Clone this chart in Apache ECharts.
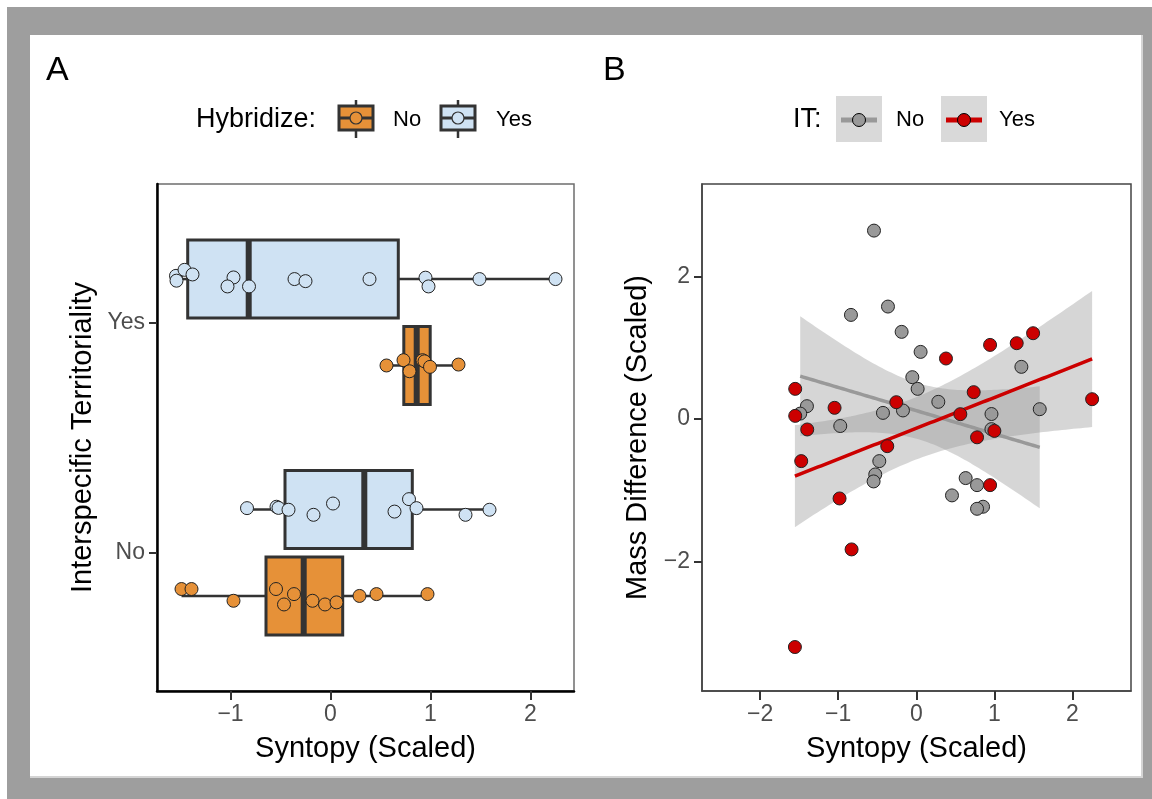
<!DOCTYPE html>
<html><head><meta charset="utf-8">
<script src="https://cdn.jsdelivr.net/npm/echarts@6/dist/echarts.min.js"></script>
<style>
html,body{margin:0;padding:0;background:#fff;}
#frame{position:absolute;left:7px;top:7px;width:1145px;height:792px;background:#9e9e9e;}
#inner{position:absolute;left:30px;top:35px;width:1111px;height:741px;background:#fff;border-right:2px solid #d4d4d4;border-bottom:2px solid #d4d4d4;}
#c{position:absolute;left:0;top:0;width:1152px;height:799px;}
</style>
</head><body>
<div id="frame"></div><div id="inner"></div>
<div id="c"></div>
<script>
// ---------- Panel A data ----------
const categoriesA = ['No', 'Yes'];           // Interspecific Territoriality
const hybridizeLevels = ['No', 'Yes'];
const xTicksA = [-1, 0, 1, 2];
// box stats [lower whisker, Q1, median, Q3, upper whisker] for IT = No, Yes
const boxHybNo  = [[-1.49, -0.645, -0.268, 0.122, 0.97], [0.565, 0.733, 0.862, 0.997, 1.28]];
const boxHybYes = [[-0.835, -0.455, 0.338, 0.818, 1.59], [-1.55, -1.428, -0.818, 0.678, 2.25]];
// raw points (syntopy) and read vertical jitter (category units)
const hybNoItNoX  = [-1.49, -1.39, -0.97, -0.545, -0.465, -0.365, -0.18, -0.055, 0.06, 0.29, 0.46, 0.97];
const hybNoItNoJ  = [0.03, 0.03, -0.021, 0.03, -0.037, 0.008, -0.021, -0.037, -0.028, 0, 0.008, 0.008];
const hybNoItYesX = [0.56, 0.73, 0.79, 0.92, 0.94, 0.995, 1.28];
const hybNoItYesJ = [0, 0.023, -0.025, 0.023, 0.018, -0.006, 0.004];
const hybYesItNoX = [-0.835, -0.54, -0.52, -0.42, -0.17, 0.025, 0.64, 0.785, 0.86, 1.35, 1.59];
const hybYesItNoJ = [0.006, 0.012, 0.007, -0.001, -0.023, 0.026, -0.009, 0.045, 0.006, -0.023, -0.001];
const hybYesItYesX = [-1.545, -1.54, -1.46, -1.38, -0.97, -1.03, -0.815, -0.36, -0.25, 0.39, 0.95, 0.98, 1.49, 2.25];
const hybYesItYesJ = [0.014, -0.007, 0.04, 0.02, 0.007, -0.032, -0.032, 0, -0.009, 0, 0.006, -0.032, 0, 0];

// ---------- Panel B data ----------
const xTicksB = [-2, -1, 0, 1, 2];
const yTicksB = [-2, 0, 2];
const itNoX = [-0.542, -0.837, -0.363, -0.188, 0.055, -0.051, 0.017, 1.346, 0.282, -0.427, -0.171, -1.401, -1.487, -0.974, 0.963, 1.581, 0.962, -0.474, -0.526, -0.547, 0.632, 0.778, 0.457, 0.855, 0.778];
const itNoY = [2.646, 1.463, 1.58, 1.225, 0.944, 0.589, 0.425, 0.734, 0.243, 0.088, 0.122, 0.182, 0.078, -0.096, 0.072, 0.14, -0.14, -0.589, -0.776, -0.874, -0.827, -0.926, -1.07, -1.229, -1.258];
const itYesX = [0.38, 0.945, 1.286, 1.496, -1.551, -1.551, -1.047, -1.397, -0.256, 0.735, 0.564, 2.252, 1.0, 0.778, -0.372, -1.474, 0.945, -0.983, -0.829, -1.555];
const itYesY = [0.851, 1.042, 1.066, 1.206, 0.425, 0.046, 0.159, -0.145, 0.238, 0.379, 0.07, 0.28, -0.165, -0.255, -0.379, -0.589, -0.926, -1.113, -1.828, -3.198];

// ---------- styling constants ----------
const FONT = '"Liberation Sans", Arial, sans-serif';
const ORANGE = '#e69138', LIGHTBLUE = '#cfe2f3';
const GREYPT = '#999999', REDPT = '#cc0000';
const DODGE = 0.1875, BOXHALF = 0.169;
const minus = v => String(v).replace('-', '\u2212');

function boxRender(color, dodge) {
  return function (params, api) {
    const yc = api.value(0) + dodge;
    const lo = api.coord([api.value(1), yc]);
    const q1 = api.coord([api.value(2), yc]);
    const md = api.coord([api.value(3), yc]);
    const q3 = api.coord([api.value(4), yc]);
    const hi = api.coord([api.value(5), yc]);
    const top = api.coord([api.value(2), yc + BOXHALF])[1];
    const bot = api.coord([api.value(2), yc - BOXHALF])[1];
    return {
      type: 'group', children: [
        { type: 'line', shape: { x1: lo[0], y1: lo[1], x2: q1[0], y2: q1[1] }, style: { stroke: '#333', lineWidth: 2.5 } },
        { type: 'line', shape: { x1: q3[0], y1: q3[1], x2: hi[0], y2: hi[1] }, style: { stroke: '#333', lineWidth: 2.5 } },
        { type: 'rect', shape: { x: q1[0], y: top, width: q3[0] - q1[0], height: bot - top }, style: { fill: color, stroke: '#333', lineWidth: 3 } },
        { type: 'line', shape: { x1: md[0], y1: top, x2: md[0], y2: bot }, style: { stroke: '#333', lineWidth: 6 } }
      ]
    };
  };
}
function boxData(stats) { return stats.map((s, i) => [i + 1].concat(s)); }
function pointData(xs, js, cat, dodge) { return xs.map((x, i) => [x, cat + dodge + js[i]]); }

// linear model with 95% confidence band (as geom_smooth(method = "lm"))
function lmBand(xs, ys, tq) {
  const n = xs.length;
  const mx = xs.reduce((a, b) => a + b, 0) / n, my = ys.reduce((a, b) => a + b, 0) / n;
  let sxx = 0, sxy = 0;
  for (let i = 0; i < n; i++) { sxx += (xs[i] - mx) ** 2; sxy += (xs[i] - mx) * (ys[i] - my); }
  const b = sxy / sxx, a = my - b * mx;
  let sse = 0;
  for (let i = 0; i < n; i++) sse += (ys[i] - a - b * xs[i]) ** 2;
  const s = Math.sqrt(sse / (n - 2));
  const xmin = Math.min(...xs), xmax = Math.max(...xs);
  const out = [];
  for (let k = 0; k < 80; k++) {
    const x = xmin + (xmax - xmin) * k / 79;
    const yh = a + b * x;
    const se = s * Math.sqrt(1 / n + (x - mx) ** 2 / sxx);
    out.push([x, yh, yh - tq * se, yh + tq * se]);
  }
  return out;
}
const bandNo = lmBand(itNoX, itNoY, 2.069);
const bandYes = lmBand(itYesX, itYesY, 2.101);

function ribbonRender(band) {
  return function (params, api) {
    if (params.dataIndex !== 0) return null;
    const upper = band.map(p => api.coord([p[0], p[3]]));
    const lower = band.map(p => api.coord([p[0], p[2]])).reverse();
    return { type: 'polygon', shape: { points: upper.concat(lower) }, style: { fill: 'rgba(153,153,153,0.4)' } };
  };
}

const tickLabel = { color: '#4d4d4d', fontSize: 23, fontFamily: FONT };
const nameStyle = { color: '#000', fontSize: 29, fontFamily: FONT };

const chart = echarts.init(document.getElementById('c'), null, { renderer: 'canvas' });

function legendA(cx, color) {
  return [
    { type: 'line', shape: { x1: cx, y1: 100, x2: cx, y2: 138 }, style: { stroke: '#333', lineWidth: 2.5 }, z: 100 },
    { type: 'rect', shape: { x: cx - 17, y: 106, width: 34, height: 24 }, style: { fill: color, stroke: '#333', lineWidth: 3 }, z: 101 },
    { type: 'line', shape: { x1: cx - 17, y1: 118, x2: cx + 17, y2: 118 }, style: { stroke: '#333', lineWidth: 3 }, z: 102 },
    { type: 'circle', shape: { cx: cx, cy: 118, r: 6 }, style: { fill: color, stroke: '#333', lineWidth: 1.2 }, z: 103 }
  ];
}
function legendB(x0, color) {
  const cx = x0 + 23;
  return [
    { type: 'rect', shape: { x: x0, y: 96, width: 46, height: 46 }, style: { fill: '#d9d9d9' }, z: 100 },
    { type: 'line', shape: { x1: x0 + 5, y1: 120, x2: x0 + 41, y2: 120 }, style: { stroke: color, lineWidth: 5 }, z: 101 },
    { type: 'circle', shape: { cx: cx, cy: 120, r: 6.5 }, style: { fill: color, stroke: '#000', lineWidth: 1 }, z: 102 }
  ];
}
function txt(t, x, y, size, align) {
  return { type: 'text', z: 100, style: { text: t, x: x, y: y, fill: '#000', font: size + 'px ' + FONT, align: align || 'left', verticalAlign: 'middle', textAlign: align || 'left', textVerticalAlign: 'middle' } };
}

const option = {
  animation: false,
  backgroundColor: 'transparent',
  grid: [
    { left: 157, top: 184, width: 417, height: 507, show: true, borderColor: '#6e6e6e', borderWidth: 1.5, backgroundColor: 'transparent' },
    { left: 702, top: 184, width: 429, height: 507, show: true, borderColor: '#444', borderWidth: 1.5, backgroundColor: 'transparent' }
  ],
  xAxis: [
    { type: 'value', gridIndex: 0, min: -1.735, max: 2.435,
      name: 'Syntopy (Scaled)', nameLocation: 'middle', nameGap: 43, nameTextStyle: nameStyle,
      axisLine: { show: true, onZero: false, lineStyle: { color: '#000', width: 2.5 } },
      axisTick: { show: true, length: 9, customValues: xTicksA, lineStyle: { color: '#333', width: 2 } },
      axisLabel: { customValues: xTicksA, formatter: minus, margin: 12, ...tickLabel },
      splitLine: { show: false } },
    { type: 'value', gridIndex: 1, min: -2.745, max: 2.75,
      name: 'Syntopy (Scaled)', nameLocation: 'middle', nameGap: 43, nameTextStyle: nameStyle,
      axisLine: { show: true, onZero: false, lineStyle: { color: '#444', width: 1.5 } },
      axisTick: { show: true, length: 9, customValues: xTicksB, lineStyle: { color: '#333', width: 2 } },
      axisLabel: { customValues: xTicksB, formatter: minus, margin: 12, ...tickLabel },
      splitLine: { show: false } }
  ],
  yAxis: [
    { type: 'value', gridIndex: 0, min: 0.4, max: 2.6,
      name: 'Interspecific Territoriality', nameLocation: 'middle', nameGap: 60, nameRotate: 90, nameTextStyle: nameStyle,
      axisLine: { show: true, onZero: false, lineStyle: { color: '#000', width: 2.5 } },
      axisTick: { show: true, length: 8, customValues: [1, 2], lineStyle: { color: '#333', width: 2 } },
      axisLabel: { customValues: [1, 2], formatter: v => categoriesA[Math.round(v) - 1], margin: 12, ...tickLabel },
      splitLine: { show: false } },
    { type: 'value', gridIndex: 1, min: -3.815, max: 3.30,
      name: 'Mass Difference (Scaled)', nameLocation: 'middle', nameGap: 50, nameRotate: 90, nameTextStyle: nameStyle,
      axisLine: { show: true, onZero: false, lineStyle: { color: '#444', width: 1.5 } },
      axisTick: { show: true, length: 8, customValues: yTicksB, lineStyle: { color: '#333', width: 2 } },
      axisLabel: { customValues: yTicksB, formatter: minus, margin: 12, ...tickLabel },
      splitLine: { show: false } }
  ],
  graphic: [
    txt('A', 46, 71, 34), txt('B', 603, 71, 34),
    txt('Hybridize:', 196, 120, 27),
    ...legendA(356, ORANGE), txt(hybridizeLevels[0], 393, 120, 22),
    ...legendA(458, LIGHTBLUE), txt(hybridizeLevels[1], 496, 120, 22),
    txt('IT:', 793, 120, 27),
    ...legendB(836, GREYPT), txt('No', 896, 120, 22),
    ...legendB(941, REDPT), txt('Yes', 999, 120, 22)
  ],
  series: [
    { type: 'custom', xAxisIndex: 0, yAxisIndex: 0, z: 2, renderItem: boxRender(ORANGE, -DODGE),
      data: boxData(boxHybNo), encode: { x: [1, 2, 3, 4, 5], y: 0 } },
    { type: 'custom', xAxisIndex: 0, yAxisIndex: 0, z: 2, renderItem: boxRender(LIGHTBLUE, DODGE),
      data: boxData(boxHybYes), encode: { x: [1, 2, 3, 4, 5], y: 0 } },
    { type: 'scatter', xAxisIndex: 0, yAxisIndex: 0, z: 3, symbolSize: 13,
      itemStyle: { color: ORANGE, borderColor: '#222', borderWidth: 1, opacity: 1 },
      data: pointData(hybNoItNoX, hybNoItNoJ, 1, -DODGE).concat(pointData(hybNoItYesX, hybNoItYesJ, 2, -DODGE)) },
    { type: 'scatter', xAxisIndex: 0, yAxisIndex: 0, z: 3, symbolSize: 13,
      itemStyle: { color: LIGHTBLUE, borderColor: '#222', borderWidth: 1, opacity: 1 },
      data: pointData(hybYesItNoX, hybYesItNoJ, 1, DODGE).concat(pointData(hybYesItYesX, hybYesItYesJ, 2, DODGE)) },

    { type: 'custom', xAxisIndex: 1, yAxisIndex: 1, z: 1, renderItem: ribbonRender(bandNo), clip: true,
      data: bandNo.map(p => [p[0], p[1]]) },
    { type: 'custom', xAxisIndex: 1, yAxisIndex: 1, z: 1, renderItem: ribbonRender(bandYes), clip: true,
      data: bandYes.map(p => [p[0], p[1]]) },
    { type: 'line', xAxisIndex: 1, yAxisIndex: 1, z: 2, showSymbol: false, symbol: 'none',
      lineStyle: { color: GREYPT, width: 3.5 }, data: bandNo.map(p => [p[0], p[1]]) },
    { type: 'line', xAxisIndex: 1, yAxisIndex: 1, z: 2, showSymbol: false, symbol: 'none',
      lineStyle: { color: REDPT, width: 3.5 }, data: bandYes.map(p => [p[0], p[1]]) },
    { type: 'scatter', xAxisIndex: 1, yAxisIndex: 1, z: 3, symbolSize: 13,
      itemStyle: { color: GREYPT, borderColor: '#222', borderWidth: 1, opacity: 1 },
      data: itNoX.map((x, i) => [x, itNoY[i]]) },
    { type: 'scatter', xAxisIndex: 1, yAxisIndex: 1, z: 3, symbolSize: 13,
      itemStyle: { color: REDPT, borderColor: '#222', borderWidth: 1, opacity: 1 },
      data: itYesX.map((x, i) => [x, itYesY[i]]) }
  ]
};
chart.setOption(option);
</script>
</body></html>
